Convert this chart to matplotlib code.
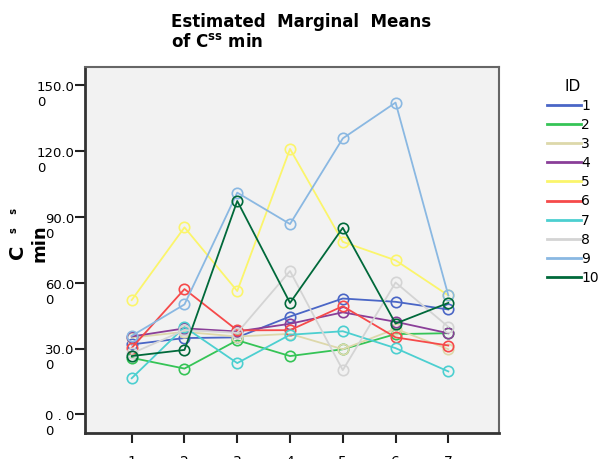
import matplotlib
matplotlib.use("Agg")
import matplotlib.pyplot as plt
import matplotlib.transforms as mtransforms
from matplotlib.lines import Line2D

# Estimated marginal means of C_ss min per subject across 7 occasions
occasions = [1, 2, 3, 4, 5, 6, 7]
ids = ["1", "2", "3", "4", "5", "6", "7", "8", "9", "10"]
id1 = [31.9, 34.8, 35.1, 44.6, 52.8, 51.3, 47.8]
id2 = [25.8, 20.9, 33.8, 26.6, 29.7, 36.6, 37.0]
id3 = [35.0, 37.6, 35.5, 36.7, 29.7, 39.0, 29.7]
id4 = [35.5, 39.2, 37.8, 41.3, 46.5, 42.2, 37.0]
id5 = [52.1, 85.2, 56.2, 120.9, 78.6, 70.2, 54.2]
id6 = [30.3, 57.1, 38.3, 38.4, 49.3, 35.1, 31.4]
id7 = [16.5, 39.8, 23.4, 36.3, 37.9, 30.2, 19.6]
id8 = [27.8, 38.4, 37.2, 65.3, 20.2, 60.1, 39.9]
id9 = [35.8, 50.1, 101.0, 86.7, 125.7, 142.0, 54.2]
id10 = [26.6, 29.4, 97.2, 50.8, 85.0, 41.4, 50.8]
series = [id1, id2, id3, id4, id5, id6, id7, id8, id9, id10]
colors = ["#4a66c6", "#35c456", "#ddd8aa", "#8a3e98", "#fbf56b",
          "#f64a4a", "#4ccfd0", "#d4d4d4", "#8ab8e2", "#00693a"]
y_ticks = [0, 30, 60, 90, 120, 150]
y_tick_labels = ["0 . 0\n0", "30.0\n0", "60.0\n0", "90.0\n0", "120.0\n0", "150.0\n0"]

W, H = 598, 459
fig = plt.figure(figsize=(W / 100, H / 100), dpi=100)
ax = fig.add_axes([85 / W, 1 - 432.5 / H, (499 - 85) / W, (432.5 - 67) / H])
ax.set_facecolor("#f2f2f2")

for vals, c in zip(series, colors):
    ax.plot(occasions, vals, color=c, lw=1.3, marker="o", ms=7.5,
            mfc="none", mec=c, mew=1.2)

ax.set_xlim(0.115, 7.96)
ax.set_ylim(-8.2, 158.2)
ax.set_xticks(occasions)
ax.set_xticklabels([str(o) for o in occasions], fontsize=10)
ax.set_yticks(y_ticks)
ax.set_yticklabels(y_tick_labels, fontsize=9.5)
ax.tick_params(axis="both", length=7.5, width=1.5, color="#222222")
ax.tick_params(axis="x", pad=9)
ax.tick_params(axis="y", pad=0)

# wrapped y labels: first line ends at the tick, second line hangs below
shift = mtransforms.ScaledTranslation(0, 3 / 72, fig.dpi_scale_trans)
for lab in ax.get_yticklabels():
    lab.set_verticalalignment("top")
    lab.set_horizontalalignment("right")
    lab.set_multialignment("left")
    lab.set_transform(lab.get_transform() + shift)

for side in ["left", "bottom"]:
    ax.spines[side].set_color("#333333")
    ax.spines[side].set_linewidth(2)
for side in ["top", "right"]:
    ax.spines[side].set_color("#666666")
    ax.spines[side].set_linewidth(1.5)

fig.text(171 / W, 1 - 32 / H, "Estimated  Marginal  Means\nof C$^{\\mathregular{ss}}$ min",
         fontsize=12, fontweight="bold", ha="left", va="center", linespacing=1.2)

# y axis title
fig.text(18 / W, 1 - 252 / H, "C", fontsize=14, fontweight="bold",
         rotation=90, ha="center", va="center")
fig.text(14 / W, 1 - 221 / H, "s    s", fontsize=7, fontweight="bold",
         rotation=90, ha="center", va="center")
fig.text(39 / W, 1 - 243 / H, "min", fontsize=13, fontweight="bold",
         rotation=90, ha="center", va="center")

handles = [Line2D([], [], color=c, lw=2) for c in colors]
leg = fig.legend(handles, ids, title="ID", loc="upper left",
                 bbox_to_anchor=(541 / W, 1 - 73 / H), frameon=False,
                 fontsize=10, title_fontsize=11, handlelength=2.45,
                 handletextpad=0.05, labelspacing=0.37, borderaxespad=0)

fig.savefig("out.png", dpi=100)
